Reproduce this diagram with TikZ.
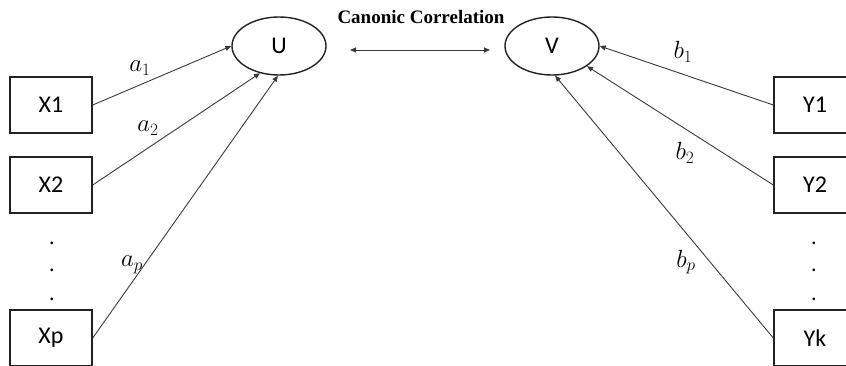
\documentclass[tikz,border=0pt]{standalone}
\usepackage{fontspec}
\setsansfont{Carlito}
\newfontfamily\capfont{Liberation Serif}
\usetikzlibrary{shapes.geometric,arrows.meta}
\definecolor{linec}{HTML}{3A3A3A}
\definecolor{boxc}{HTML}{222222}
\tikzset{
  varbox/.style={draw=boxc,line width=1.4pt,minimum width=82pt,minimum height=56pt,inner sep=0pt,font=\sffamily\fontsize{24}{26}\selectfont},
  latent/.style={ellipse,draw=boxc,line width=1.4pt,minimum width=94pt,minimum height=58pt,inner sep=0pt,font=\sffamily\fontsize{24}{26}\selectfont},
  conn/.style={draw=linec,line width=0.9pt,-{Triangle[length=6pt,width=5pt]}},
  wlabel/.style={font=\fontsize{23}{25}\selectfont},
  vdot/.style={font=\sffamily\fontsize{22}{24}\selectfont}
}
\begin{document}
\begin{tikzpicture}[x=1pt,y=-1pt]
\useasboundingbox (0,0) rectangle (846,366);
\clip (0,0) rectangle (846,366);
\node[latent] (U) at (279,46) {U};
\node[latent] (V) at (552,46) {V};
\node[varbox] (X1) at (51,105) {X1};
\node[varbox] (X2) at (51,185) {X2};
\node[varbox] (Xp) at (51,338) {Xp};
\node[varbox] (Y1) at (815,105) {Y1};
\node[varbox] (Y2) at (815,185) {Y2};
\node[varbox] (Yk) at (815,338) {Yk};
\foreach \yy [count=\i] in {240,268,296} {
  \node[vdot,anchor=base] (ld\i) at (52,\yy+4) {.};
  \node[vdot,anchor=base] (rd\i) at (814,\yy+4) {.};
}
\node[font=\capfont\bfseries\fontsize{19}{21}\selectfont] (cc) at (421,17) {Canonic Correlation};
\coordinate (cl) at (350,50);
\coordinate (cr) at (490,50);
\draw[draw=linec,line width=0.9pt,{Triangle[length=6pt,width=5pt]}-{Triangle[length=6pt,width=5pt]}] (cl) -- (cr);
\draw[conn] (X1.east) -- (U.west);
\draw[conn] (X2.east) -- (U.-125);
\draw[conn] (Xp.east) -- (U.-92);
\draw[conn] (Y1.west) -- (V.east);
\draw[conn] (Y2.west) -- (V.-30);
\draw[conn] (Yk.west) -- (V.-84);
\node[wlabel] (la1) at (140,68) {$a_1$};
\node[wlabel] (la2) at (148,128) {$a_2$};
\node[wlabel] (lap) at (132,265) {$a_p$};
\node[wlabel] (lb1) at (683,52) {$b_1$};
\node[wlabel] (lb2) at (685,153) {$b_2$};
\node[wlabel] (lbp) at (686,262) {$b_p$};
\end{tikzpicture}
\end{document}
